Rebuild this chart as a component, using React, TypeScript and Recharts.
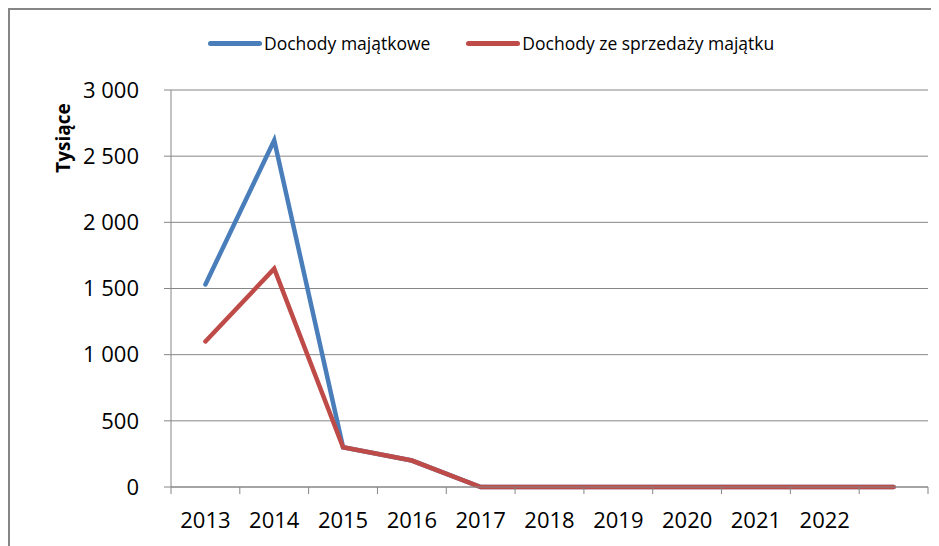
import React from 'react';
import { ComposedChart, Line, XAxis, YAxis, CartesianGrid, Legend, Label } from 'recharts';

// categories (last one has no label on the axis)
const years = ['2013', '2014', '2015', '2016', '2017', '2018', '2019', '2020', '2021', '2022', ''];
const dochodyMajatkowe = [1530, 2620, 300, 200, 0, 0, 0, 0, 0, 0, 0];
const dochodyZeSprzedazy = [1100, 1650, 300, 200, 0, 0, 0, 0, 0, 0, 0];
const yTicks = [0, 500, 1000, 1500, 2000, 2500, 3000];

const data = years.map((year, i) => ({
  year,
  majatkowe: dochodyMajatkowe[i],
  sprzedaz: dochodyZeSprzedazy[i],
}));

const CHART_W = 929;
const CHART_H = 536;
const MARGIN = { top: 80, right: 11, bottom: 0, left: 0 };
const Y_AXIS_W = 161;
const X_AXIS_H = 59;
const FONT = '"Open Sans", "Noto Sans", sans-serif';
const AXIS_GRAY = '#868686';
const BLUE = '#4a7ebb';
const RED = '#be4b48';

const bandWidth = (CHART_W - MARGIN.left - MARGIN.right - Y_AXIS_W) / years.length;

const formatThousands = (v: number) => String(v).replace(/\B(?=(\d{3})+(?!\d))/g, ' ');

// x tick: label in the middle of the band, tick marks on band edges (Excel style)
const XTick = (props: any) => {
  const { x, y, payload, index } = props;
  const axisY = y - 7 - 18;
  const last = index === years.length - 1;
  return (
    <g>
      <line x1={x - bandWidth / 2} x2={x - bandWidth / 2} y1={axisY} y2={axisY + 7} stroke={AXIS_GRAY} />
      {last && (
        <line x1={x + bandWidth / 2} x2={x + bandWidth / 2} y1={axisY} y2={axisY + 7} stroke={AXIS_GRAY} />
      )}
      <text x={x} y={y} dy="0.71em" textAnchor="middle" fill="#000" fontSize={22} fontFamily={FONT}>
        {payload.value}
      </text>
    </g>
  );
};

const LegendContent = () => (
  <div style={{ display: 'flex', alignItems: 'center', fontFamily: FONT, fontSize: 17.5, color: '#000', whiteSpace: 'nowrap' }}>
    {[
      { name: 'Dochody majątkowe', color: BLUE },
      { name: 'Dochody ze sprzedaży majątku', color: RED },
    ].map((item, i) => (
      <div key={item.name} style={{ display: 'flex', alignItems: 'center', marginRight: i === 0 ? 36 : 0 }}>
        <span style={{ display: 'inline-block', width: 54, height: 5, borderRadius: 3, background: item.color, marginRight: 2 }} />
        <span>{item.name}</span>
      </div>
    ))}
  </div>
);

export default function App() {
  return (
    <div
      style={{
        width: 931,
        height: 538,
        boxSizing: 'border-box',
        borderTop: `2px solid ${AXIS_GRAY}`,
        borderLeft: `2px solid ${AXIS_GRAY}`,
        background: '#fff',
        position: 'relative',
      }}
    >
      <ComposedChart width={CHART_W} height={CHART_H} data={data} margin={MARGIN}>
        <CartesianGrid vertical={false} stroke={AXIS_GRAY} />
        <XAxis
          dataKey="year"
          scale="band"
          height={X_AXIS_H}
          interval={0}
          stroke={AXIS_GRAY}
          tickLine={false}
          tickSize={7}
          tickMargin={18}
          tick={<XTick />}
        />
        <YAxis
          width={Y_AXIS_W}
          domain={[0, 3000]}
          ticks={yTicks}
          interval={0}
          stroke={AXIS_GRAY}
          tickSize={7}
          tickMargin={25}
          tickFormatter={formatThousands}
          tick={{ fill: '#000', fontSize: 22, fontFamily: FONT }}
        >
          <Label
            content={({ viewBox }: any) => {
              const cx = 53;
              const cy = viewBox.y + 48;
              return (
                <text
                  x={cx}
                  y={cy}
                  transform={`rotate(-90 ${cx} ${cy})`}
                  textAnchor="middle"
                  dominantBaseline="central"
                  fontSize={19}
                  fontWeight="bold"
                  fontFamily={FONT}
                  fill="#000"
                >
                  Tysiące
                </text>
              );
            }}
          />
        </YAxis>
        <Legend
          layout="horizontal"
          verticalAlign="middle"
          align="center"
          wrapperStyle={{ top: 21, left: 198, width: 'auto' }}
          content={<LegendContent />}
        />
        <Line
          type="linear"
          dataKey="majatkowe"
          name="Dochody majątkowe"
          stroke={BLUE}
          strokeWidth={4.5}
          strokeLinecap="round"
          dot={false}
          activeDot={false}
          isAnimationActive={false}
        />
        <Line
          type="linear"
          dataKey="sprzedaz"
          name="Dochody ze sprzedaży majątku"
          stroke={RED}
          strokeWidth={4.5}
          strokeLinecap="round"
          dot={false}
          activeDot={false}
          isAnimationActive={false}
        />
      </ComposedChart>
    </div>
  );
}
